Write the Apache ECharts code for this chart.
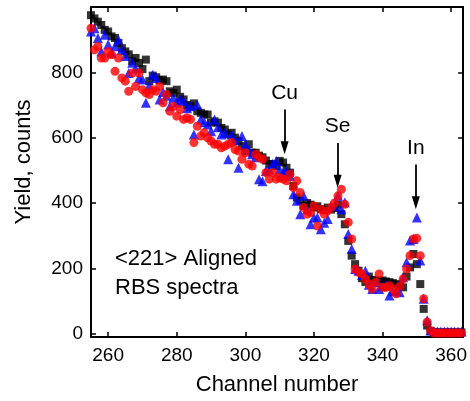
<!DOCTYPE html>
<html><head><meta charset="utf-8">
<script src="https://cdn.jsdelivr.net/npm/echarts@6/dist/echarts.min.js"></script>
<style>html,body{margin:0;padding:0;background:#fff}#c{width:470px;height:401px}</style>
</head><body><div id="c"></div>
<script>
const channels = [
 255,256,257,258,259,260,261,262,263,264,
 265,266,267,268,269,270,271,272,273,274,
 275,276,277,278,279,280,281,282,283,284,
 285,286,287,288,289,290,291,292,293,294,
 295,296,297,298,299,300,301,302,303,304,
 305,306,307,308,309,310,311,312,313,314,
 315,316,317,318,319,320,321,322,323,324,
 325,326,327,328,329,330,331,332,333,334,
 335,336,337,338,339,340,341,342,343,344,
 345,346,347,348,349,350,351,352,353,354,
 355,356,357,358,359,360,361,362,363];
const blackSquares = [
 975,965,955,945,930,925,910,905,890,874,
 864,855,834,844,829,810,839,773,790,785,
 776,778,773,742,737,747,725,717,700,696,
 705,681,676,671,671,646,650,646,630,625,
 610,615,600,590,574,559,580,554,554,545,
 540,530,519,519,513,529,524,508,493,452,
 417,407,391,400,395,386,390,381,378,386,
 380,385,395,366,335,284,239,213,193,170,
 158,175,165,163,160,163,160,158,155,152,
 148,142,175,203,244,213,152,76,25,8,
 4,4,4,4,4,4,4,4,4];
const blueTriangles = [
 925,935,905,864,915,885,859,880,900,869,
 850,798,829,812,783,778,707,760,793,783,
 717,740,728,696,722,708,717,712,690,696,
 610,701,656,648,640,620,656,632,610,615,
 534,610,592,508,605,580,562,549,540,473,
 467,498,503,520,529,503,493,500,483,427,
 407,366,422,380,335,356,356,320,340,351,
 391,391,422,381,402,305,259,198,193,180,
 193,150,137,158,137,145,150,117,130,132,
 127,173,219,285,290,356,224,107,41,10,
 7,7,7,7,7,7,7,7,7];
const redCircles = [
 935,869,879,844,844,864,854,803,844,783,
 773,742,798,757,798,747,737,732,747,742,
 757,707,732,681,696,666,686,656,661,656,
 585,635,605,615,600,590,580,580,569,574,
 580,585,564,559,534,554,519,513,549,539,
 534,493,473,493,473,478,473,468,488,447,
 468,432,386,366,371,391,330,381,366,376,
 386,400,422,442,396,341,290,198,188,183,
 168,152,137,158,183,142,142,147,137,122,
 145,168,198,239,290,292,239,107,36,10,
 2,2,2,2,2,2,2,2,2];
const xTicks = [260,280,300,320,340,360];
const yTicks = [0,200,400,600,800];
const peakNames = ['Cu','Se','In'];
const peakChannels = [311.45, 326.9, 349.7];
const arrowTop = [686, 584, 518];
const arrowTip = [569, 467, 401];
const noteLines = ['<221> Aligned', 'RBS spectra'];

const FONT = 'Liberation Sans, Arial, sans-serif';
const pairs = arr => channels.map((c,i)=>[c, arr[i]]);
const chart = echarts.init(document.getElementById('c'), null, {renderer:'canvas'});
const frameLine = {show:true, onZero:false, lineStyle:{color:'#000', width:2}};
const tick = {show:true, inside:true, length:5, lineStyle:{color:'#000', width:1.5}};
chart.setOption({
  animation:false,
  backgroundColor:'#fff',
  grid:{left:91, right:6, top:7, bottom:62},
  xAxis:[{
    type:'value', min:255, max:363.5, position:'bottom',
    axisLine:frameLine,
    axisTick:Object.assign({customValues:xTicks}, tick),
    axisLabel:{customValues:xTicks, fontSize:19, color:'#000', fontFamily:FONT, margin:9},
    splitLine:{show:false},
    name:'Channel number', nameLocation:'middle', nameGap:37,
    nameTextStyle:{fontSize:22, color:'#000', fontFamily:FONT}
  },{
    type:'value', min:255, max:363.5, position:'top',
    axisLine:frameLine,
    axisTick:Object.assign({customValues:xTicks}, tick),
    axisLabel:{show:false}, splitLine:{show:false}
  }],
  yAxis:[{
    type:'value', min:-10, max:1000, position:'left',
    axisLine:frameLine,
    axisTick:Object.assign({customValues:yTicks}, tick),
    axisLabel:{customValues:yTicks, fontSize:19, color:'#000', fontFamily:FONT, margin:8},
    splitLine:{show:false},
    name:'Yield, counts', nameLocation:'middle', nameGap:56,
    nameTextStyle:{fontSize:22, color:'#000', fontFamily:FONT, padding:[0,0,0,20]}
  },{
    type:'value', min:-10, max:1000, position:'right',
    axisLine:frameLine,
    axisTick:Object.assign({customValues:yTicks}, tick),
    axisLabel:{show:false}, splitLine:{show:false}
  }],
  series:[
    {type:'scatter', name:'black', data:pairs(blackSquares), symbol:'rect', symbolSize:8,
     itemStyle:{color:'#000'}, z:2},
    {type:'scatter', name:'blue', data:pairs(blueTriangles), symbol:'triangle', symbolSize:10,
     itemStyle:{color:'#0000ff'}, z:3},
    {type:'scatter', name:'red', data:pairs(redCircles), symbol:'circle', symbolSize:9,
     itemStyle:{color:'#ff0000'}, z:4},
    {type:'scatter', name:'arrows', data:[], z:5,
     markLine:{
       silent:true, animation:false,
       symbol:['none','triangle'], symbolSize:[8,13],
       lineStyle:{color:'#000', width:1.8, type:'solid'},
       label:{show:true, position:'start', distance:6, formatter:'{b}', fontSize:21, color:'#000', fontFamily:FONT},
       data: peakNames.map((n,i)=>[
         {name:n, coord:[peakChannels[i], arrowTop[i]]},
         {coord:[peakChannels[i], arrowTip[i]]}
       ])
     }}
  ],
  graphic:[{
    type:'text', left:115, top:244,
    style:{text:noteLines.join('\n'), font:'22px '+FONT, lineHeight:29, fill:'#000'}
  }]
});
</script>
</body></html>
